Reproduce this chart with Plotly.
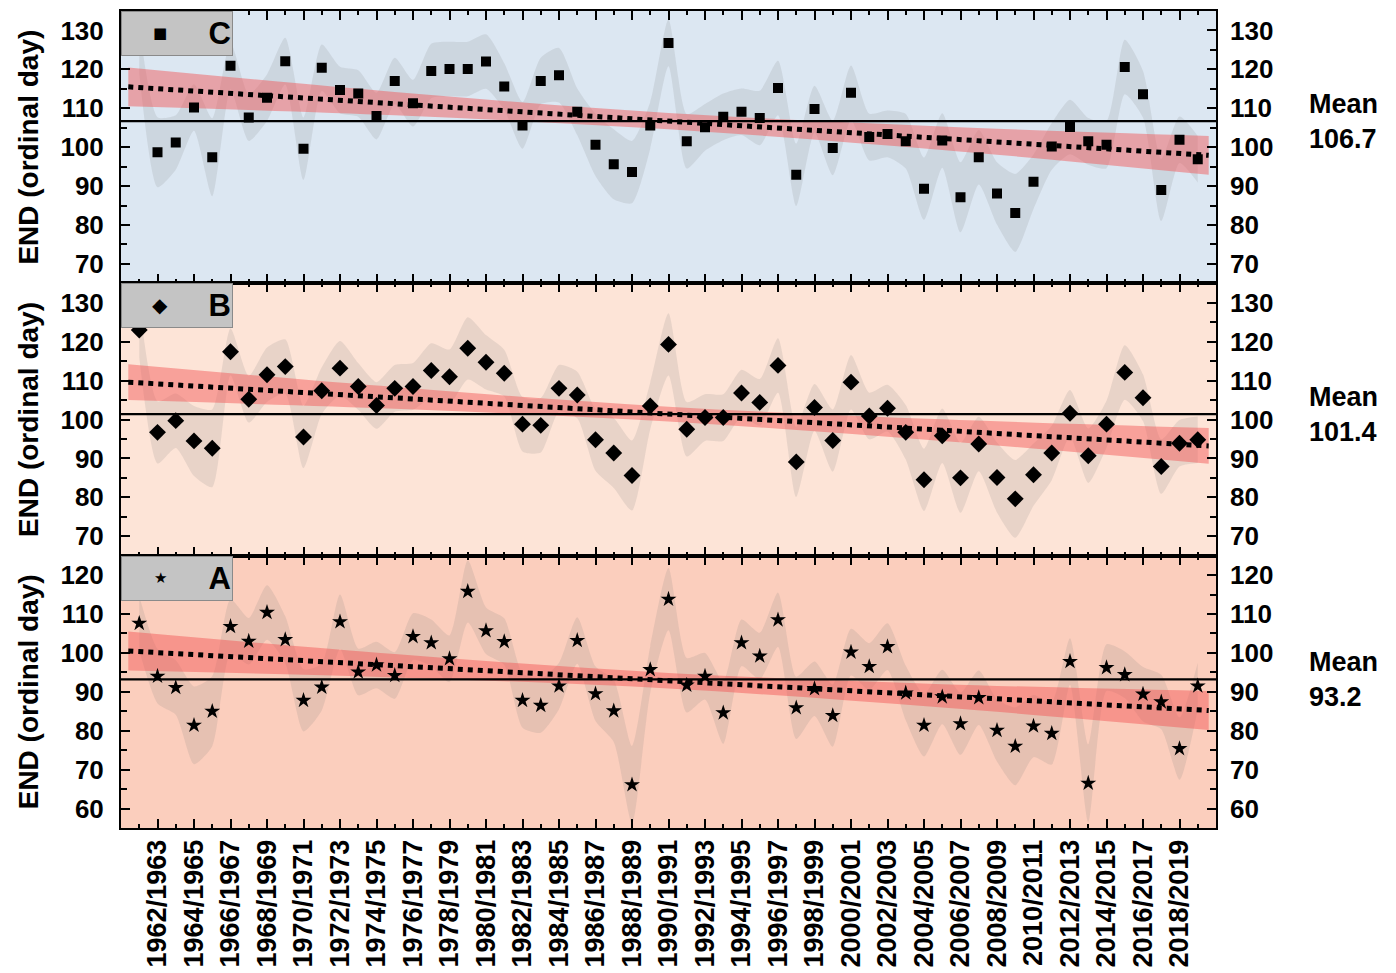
import plotly.graph_objects as go

# ---------------- data ----------------
seasons = list(range(1961, 2020))  # first year of season 1961/1962 ... 2019/2020

tick_years = [1962, 1964, 1966, 1968, 1970, 1972, 1974, 1976, 1978, 1980,
              1982, 1984, 1986, 1988, 1990, 1992, 1994, 1996, 1998, 2000,
              2002, 2004, 2006, 2008, 2010, 2012, 2014, 2016, 2018]
tick_labels = ["1962/1963", "1964/1965", "1966/1967", "1968/1969", "1970/1971",
               "1972/1973", "1974/1975", "1976/1977", "1978/1979", "1980/1981",
               "1982/1983", "1984/1985", "1986/1987", "1988/1989", "1990/1991",
               "1992/1993", "1994/1995", "1996/1997", "1998/1999", "2000/2001",
               "2002/2003", "2004/2005", "2006/2007", "2008/2009", "2010/2011",
               "2012/2013", "2014/2015", "2016/2017", "2018/2019"]

end_c = [125.0, 98.7, 101.2, 110.2, 97.4, 120.9, 107.6, 112.7, 122.1, 99.6,
         120.4, 114.7, 113.8, 108.0, 117.0, 111.3, 119.6, 120.1, 120.1, 122.0,
         115.6, 105.6, 117.0, 118.5, 109.1, 100.6, 95.6, 93.6, 105.6, 126.8,
         101.5, 105.1, 107.8, 109.1, 107.5, 115.2, 92.9, 109.8, 99.8, 114.0,
         102.6, 103.4, 101.5, 89.3, 101.7, 87.1, 97.4, 88.1, 83.1, 91.1,
         100.2, 105.2, 101.5, 100.6, 120.6, 113.6, 89.0, 101.9, 96.9]

end_b = [123.0, 96.7, 99.7, 94.5, 92.6, 117.4, 105.2, 111.5, 113.6, 95.5,
         107.4, 113.2, 108.5, 103.6, 108.0, 108.5, 112.6, 111.0, 118.3, 114.7,
         111.9, 98.8, 98.5, 108.0, 106.3, 94.8, 91.4, 85.6, 103.5, 119.3,
         97.5, 100.5, 100.5, 106.8, 104.4, 113.9, 89.1, 103.1, 94.6, 109.6,
         100.9, 102.9, 96.7, 84.5, 95.8, 85.0, 93.7, 85.1, 79.6, 85.8,
         91.4, 101.6, 90.7, 98.8, 112.1, 105.6, 87.9, 93.9, 94.8]

end_a = [107.6, 94.0, 91.1, 81.4, 85.0, 106.8, 103.0, 110.4, 103.4, 87.8,
         91.2, 108.0, 95.1, 96.9, 94.2, 104.2, 102.6, 98.5, 115.8, 105.7,
         102.9, 87.8, 86.5, 91.5, 103.2, 89.5, 85.1, 66.1, 95.7, 113.8,
         91.7, 94.0, 84.6, 102.6, 99.2, 108.5, 85.9, 90.8, 83.9, 100.2,
         96.5, 101.6, 89.7, 81.4, 88.7, 81.8, 88.5, 80.1, 76.0, 81.2,
         79.3, 97.8, 66.5, 96.2, 94.4, 89.4, 87.4, 75.4, 91.5]

# half-width of the grey uncertainty envelope around each yearly value
spread_c = [6, 9, 7, 6, 10, 6, 6, 6, 6, 8, 6, 6, 6, 6, 6, 6, 7, 7, 7, 7,
            6, 6, 6, 7, 6, 8, 9, 8, 6, 6, 7, 6, 6, 6, 7, 7, 8, 6, 7, 7,
            6, 6, 7, 8, 7, 9, 7, 8, 10, 7, 6, 7, 6, 6, 7, 6, 8, 6, 6]
spread_b = [7, 8, 7, 9, 10, 6, 6, 7, 7, 8, 6, 7, 6, 6, 6, 6, 7, 7, 8, 7,
            6, 7, 7, 6, 6, 8, 9, 9, 6, 8, 7, 6, 6, 6, 6, 7, 9, 6, 8, 7,
            6, 6, 7, 8, 7, 9, 7, 9, 10, 8, 7, 6, 7, 6, 7, 6, 7, 6, 6]
spread_a = [7, 7, 7, 10, 9, 7, 6, 7, 6, 8, 6, 7, 6, 6, 6, 6, 6, 6, 8, 6,
            6, 7, 7, 6, 6, 7, 8, 10, 6, 8, 7, 6, 8, 6, 6, 7, 8, 7, 8, 6,
            6, 6, 7, 8, 7, 8, 7, 8, 10, 8, 8, 6, 10, 6, 6, 7, 7, 8, 6]

# linear trend (dotted) and its confidence band (red)
trend_x = [1960.4, 2019.6]
trend_c = [115.5, 97.9]
trend_b = [109.6, 93.2]
trend_a = [100.5, 85.2]

ci_x = [1960.4, 1975, 1990, 2005, 2019.6]
ci_up_c = [120.5, 114.2, 108.8, 105.3, 102.9]
ci_lo_c = [110.5, 108.2, 104.6, 99.3, 92.9]
ci_up_b = [114.2, 108.35, 103.3, 100.05, 97.8]
ci_lo_b = [105.0, 102.75, 99.5, 94.45, 88.6]
ci_up_a = [105.5, 99.7, 94.85, 91.98, 90.2]
ci_lo_a = [95.5, 93.7, 90.85, 85.98, 80.2]

means = [106.7, 101.4, 93.2]
panel_names = ["C", "B", "A"]
legend_glyphs = ["\u25A0", "\u25C6", "\u2605"]

# ---------------- styling ----------------
FONT = "Liberation Sans, Arial, Helvetica, sans-serif"
FS = 26
panels = [
    dict(name=panel_names[0], vals=end_c, spread=spread_c, trend=trend_c, up=ci_up_c,
         lo=ci_lo_c, mean=means[0], bg="#dce7f2", symbol="square", size=10,
         yr=[65, 135], glyph=legend_glyphs[0], gsize=15),
    dict(name=panel_names[1], vals=end_b, spread=spread_b, trend=trend_b, up=ci_up_b,
         lo=ci_lo_b, mean=means[1], bg="#fde4d7", symbol="diamond", size=13,
         yr=[65, 135], glyph=legend_glyphs[1], gsize=20),
    dict(name=panel_names[2], vals=end_a, spread=spread_a, trend=trend_a, up=ci_up_a,
         lo=ci_lo_a, mean=means[2], bg="#fbcebd", symbol="star", size=12,
         yr=[55, 125], glyph=legend_glyphs[2], gsize=15),
]
domains = [[2 / 3, 1.0], [1 / 3, 2 / 3], [0.0, 1 / 3]]

fig = go.Figure()
# the page body adds an 8px offset, so the figure is 8px smaller on each axis
layout = dict(
    width=1388, height=965,
    margin=dict(l=113, r=180, t=3, b=145, autoexpand=False),
    paper_bgcolor="white", plot_bgcolor="white",
    font=dict(family=FONT, size=FS, color="black"),
    showlegend=False,
    shapes=[], annotations=[],
)

for i, p in enumerate(panels):
    n = i + 1
    xa = "x" if n == 1 else f"x{n}"
    ya = "y" if n == 1 else f"y{n}"
    yr_name = f"y{n + 3}"
    xkey = "xaxis" if n == 1 else f"xaxis{n}"
    ykey = "yaxis" if n == 1 else f"yaxis{n}"
    yrkey = f"yaxis{n + 3}"

    # grey envelope
    upper = [v + s for v, s in zip(p["vals"], p["spread"])]
    lower = [v - s for v, s in zip(p["vals"], p["spread"])]
    fig.add_trace(go.Scatter(
        x=seasons, y=lower, mode="lines",
        line=dict(width=0, shape="spline", smoothing=0.6),
        hoverinfo="skip", showlegend=False, xaxis=xa, yaxis=ya))
    fig.add_trace(go.Scatter(
        x=seasons, y=upper, mode="lines", fill="tonexty",
        fillcolor="rgba(125,125,125,0.16)",
        line=dict(width=0, shape="spline", smoothing=0.6),
        hoverinfo="skip", showlegend=False, xaxis=xa, yaxis=ya))
    # red confidence band
    fig.add_trace(go.Scatter(
        x=ci_x, y=p["lo"], mode="lines",
        line=dict(width=0, shape="spline"),
        hoverinfo="skip", showlegend=False, xaxis=xa, yaxis=ya))
    fig.add_trace(go.Scatter(
        x=ci_x, y=p["up"], mode="lines", fill="tonexty",
        fillcolor="rgba(243,85,85,0.47)",
        line=dict(width=0, shape="spline"),
        hoverinfo="skip", showlegend=False, xaxis=xa, yaxis=ya))
    # dotted trend
    fig.add_trace(go.Scatter(
        x=trend_x, y=p["trend"], mode="lines",
        line=dict(color="black", width=5, dash="5px,5px"),
        showlegend=False, xaxis=xa, yaxis=ya))
    # data points
    fig.add_trace(go.Scatter(
        x=seasons, y=p["vals"], mode="markers", name=p["name"],
        marker=dict(symbol=p["symbol"], size=p["size"], color="black",
                    line=dict(width=0)),
        showlegend=False, xaxis=xa, yaxis=ya))
    # mean line (on overlaid right axis)
    fig.add_trace(go.Scatter(
        x=[1960, 2020], y=[p["mean"], p["mean"]], mode="lines",
        line=dict(color="black", width=2.2),
        showlegend=False, xaxis=xa, yaxis=yr_name))

    # background
    layout["shapes"].append(dict(
        type="rect", xref=f"{xa} domain", yref=f"{ya} domain",
        x0=0, x1=1, y0=0, y1=1, fillcolor=p["bg"], line=dict(width=0), layer="below"))

    xaxis = dict(
        domain=[0, 1], anchor=ya, range=[1960, 2020], automargin=False,
        tickmode="array", tickvals=tick_years, ticktext=tick_labels,
        showticklabels=(n == 3), tickangle=-90,
        ticks="inside", ticklen=9, tickwidth=1.5, tickcolor="black",
        minor=dict(tickmode="linear", tick0=1961, dtick=2, ticks="inside",
                   ticklen=4, tickwidth=1.5, tickcolor="black"),
        showline=True, linecolor="black", linewidth=2, mirror="ticks",
        showgrid=False, zeroline=False,
        tickfont=dict(family=FONT, size=FS + 1, weight="bold"),
        ticklabelstandoff=-1,
    )
    if n != 1:
        xaxis["matches"] = "x"
    layout[xkey] = xaxis

    layout[ykey] = dict(
        domain=domains[i], anchor=xa, range=p["yr"], automargin=False,
        tickmode="linear", tick0=0, dtick=10,
        ticks="inside", ticklen=9, tickwidth=1.5, tickcolor="black",
        minor=dict(tickmode="linear", tick0=0, dtick=5, ticks="inside",
                   ticklen=6, tickwidth=1.5, tickcolor="black"),
        showline=True, linecolor="black", linewidth=2, mirror="ticks",
        showgrid=False, zeroline=False,
        tickfont=dict(family=FONT, size=FS, weight="bold"),
        ticklabelstandoff=10,
        title=dict(text="END (ordinal day)", standoff=14,
                   font=dict(family=FONT, size=28, weight="bold")),
    )
    layout[yrkey] = dict(
        overlaying=ya, anchor=xa, side="right", range=p["yr"], automargin=False,
        tickmode="linear", tick0=0, dtick=10, ticks="",
        showline=False, showgrid=False, zeroline=False,
        tickfont=dict(family=FONT, size=FS, weight="bold"),
        ticklabelstandoff=13,
    )

    # panel label box (legend-like)
    layout["annotations"].append(dict(
        xref="paper", x=0, xanchor="left",
        yref="paper", y=domains[i][1], yanchor="top",
        width=108, height=41, align="right", valign="middle",
        bgcolor="#c4c4c4", bordercolor="#8a8a8a", borderwidth=1, borderpad=1,
        text=p["name"], showarrow=False,
        font=dict(family=FONT, size=31, weight="bold")))
    layout["annotations"].append(dict(
        xref="paper", x=0, xshift=39, xanchor="center",
        yref="paper", y=domains[i][1], yshift=-22, yanchor="middle",
        text=p["glyph"], showarrow=False,
        font=dict(family="DejaVu Sans", size=p["gsize"], color="black")))

    layout["annotations"].append(dict(
        xref="paper", x=1, xshift=91, xanchor="left",
        yref=yr_name, y=p["mean"], yanchor="middle",
        text=f"Mean<br>{p['mean']}", showarrow=False, align="left",
        font=dict(family=FONT, size=FS + 1, weight="bold")))

fig.update_layout(**layout)
fig.write_html("out.html")
